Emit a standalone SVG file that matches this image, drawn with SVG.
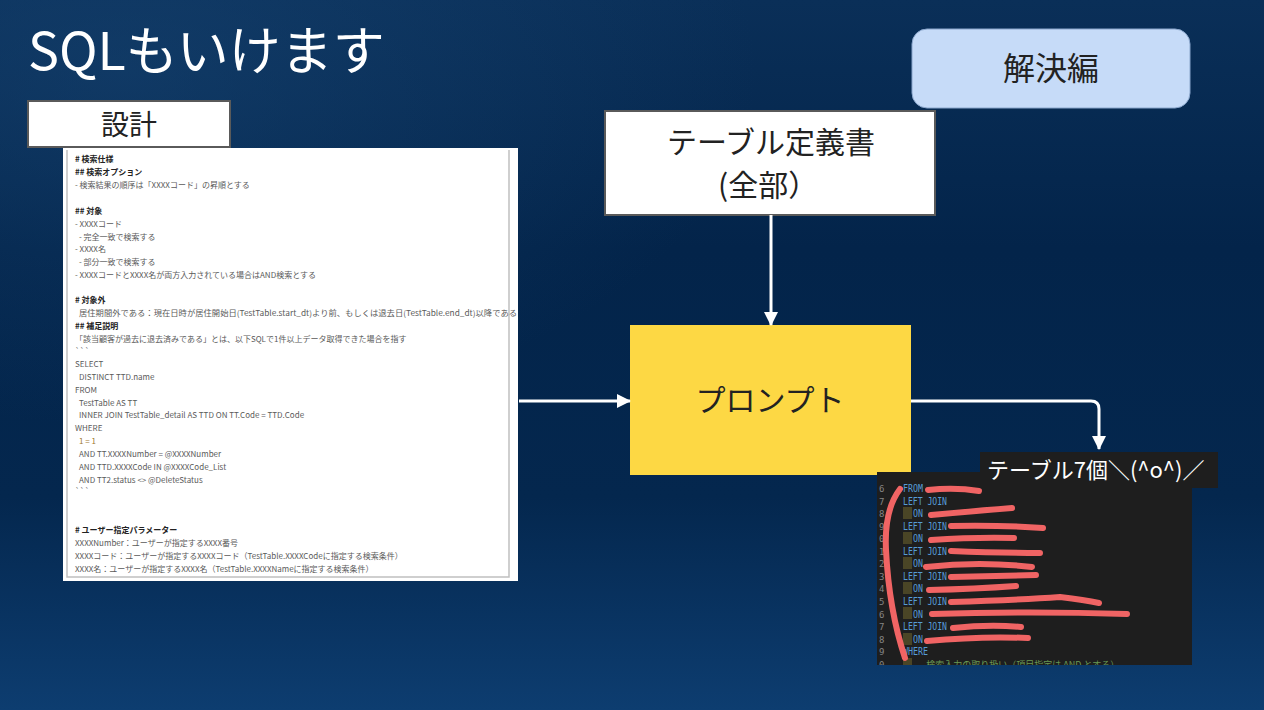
<svg xmlns="http://www.w3.org/2000/svg" width="1264" height="710" viewBox="0 0 1264 710">
<defs>
<linearGradient id="bg" x1="0" y1="0" x2="0" y2="1">
<stop offset="0" stop-color="#0a2f58"/>
<stop offset="0.35" stop-color="#03244a"/>
<stop offset="0.7" stop-color="#04274e"/>
<stop offset="1" stop-color="#0d3d70"/>
</linearGradient>
<radialGradient id="glow" cx="0.1" cy="0.1" r="0.5">
<stop offset="0" stop-color="#1a4a7a" stop-opacity="0.45"/>
<stop offset="1" stop-color="#1a4a7a" stop-opacity="0"/>
</radialGradient>
<marker id="ah" viewBox="0 0 14 14" refX="13" refY="7" markerWidth="14" markerHeight="14" markerUnits="userSpaceOnUse" orient="auto">
<path d="M0,0 L14,7 L0,14 z" fill="#fff"/>
</marker>
<clipPath id="codeclip"><rect x="877" y="472" width="315" height="193"/></clipPath>
<style>
.jp{font-family:"Noto Sans CJK JP","Noto Sans",sans-serif}
.doc{font-family:"Noto Sans CJK JP","Noto Sans",sans-serif;font-size:8px;fill:#5a5a5a}
.doch{font-family:"Noto Sans CJK JP","Noto Sans",sans-serif;font-size:8px;fill:#222;font-weight:bold}
.code{font-family:"DejaVu Sans Mono","Liberation Mono",monospace;font-size:10.5px;fill:#569cd6}
.ln{font-family:"DejaVu Sans Mono","Liberation Mono",monospace;font-size:9px;fill:#858585}
.scr{fill:none;stroke:#f06464;stroke-width:6;stroke-linecap:round;stroke-linejoin:round}
.conn{fill:none;stroke:#fff;stroke-width:3}
</style>
</defs>
<rect width="1264" height="710" fill="url(#bg)"/>
<rect width="1264" height="710" fill="url(#glow)"/>

<text x="28" y="70" class="jp" font-size="52" fill="#fff">SQLもいけます</text>

<g id="design-label">
<rect x="28" y="101" width="202" height="46" fill="#fff" stroke="#5a5a5a" stroke-width="2"/>
<text x="129" y="135" class="jp" font-size="28" fill="#222" text-anchor="middle">設計</text>
</g>

<g id="design-doc">
<rect x="63" y="148" width="455" height="433" fill="#fff"/>
<path d="M67,150 V577 H509 V150" fill="none" stroke="#c0c0c0" stroke-width="1.5"/>
<text x="75" y="162" class="doch"># 検索仕様</text>
<text x="75" y="175" class="doch">## 検索オプション</text>
<text x="75" y="188" class="doc">- 検索結果の順序は「XXXXコード」の昇順とする</text>
<text x="75" y="214" class="doch">## 対象</text>
<text x="75" y="227" class="doc">- XXXXコード</text>
<text x="79" y="240" class="doc">- 完全一致で検索する</text>
<text x="75" y="252" class="doc">- XXXX名</text>
<text x="79" y="265" class="doc">- 部分一致で検索する</text>
<text x="75" y="278" class="doc">- XXXXコードとXXXX名が両方入力されている場合はAND検索とする</text>
<text x="75" y="303" class="doch"># 対象外</text>
<text x="79" y="316" class="doc" textLength="438" lengthAdjust="spacingAndGlyphs">居住期間外である：現在日時が居住開始日(TestTable.start_dt)より前、もしくは退去日(TestTable.end_dt)以降である</text>
<text x="75" y="329" class="doch">## 補足説明</text>
<text x="75" y="342" class="doc">「該当顧客が過去に退去済みである」とは、以下SQLで1件以上データ取得できた場合を指す</text>
<text x="75" y="354" class="doc">```</text>
<text x="75" y="367" class="doc">SELECT</text>
<text x="79" y="380" class="doc">DISTINCT TTD.name</text>
<text x="75" y="393" class="doc">FROM</text>
<text x="79" y="406" class="doc">TestTable AS TT</text>
<text x="79" y="418" class="doc">INNER JOIN TestTable_detail AS TTD ON TT.Code = TTD.Code</text>
<text x="75" y="431" class="doc">WHERE</text>
<text x="79" y="444" class="doc" style="fill:#a07a30">1 = 1</text>
<text x="79" y="457" class="doc">AND TT.XXXXNumber = @XXXXNumber</text>
<text x="79" y="470" class="doc">AND TTD.XXXXCode IN @XXXXCode_List</text>
<text x="79" y="483" class="doc">AND TT2.status &lt;&gt; @DeleteStatus</text>
<text x="75" y="494" class="doc">```</text>
<text x="75" y="533" class="doch"># ユーザー指定パラメーター</text>
<text x="75" y="546" class="doc">XXXXNumber：ユーザーが指定するXXXX番号</text>
<text x="75" y="559" class="doc">XXXXコード：ユーザーが指定するXXXXコード（TestTable.XXXXCodeに指定する検索条件）</text>
<text x="75" y="572" class="doc">XXXX名：ユーザーが指定するXXXX名（TestTable.XXXXNameに指定する検索条件）</text>
</g>

<g id="solution-badge">
<rect x="912" y="29" width="278" height="79" rx="15" fill="#c6dbf8" stroke="#8aa6cc" stroke-width="1"/>
<text x="1051" y="80" class="jp" font-size="32" fill="#222" text-anchor="middle">解決編</text>
</g>

<g id="table-def">
<rect x="605" y="111" width="330" height="104" fill="#fff" stroke="#5a5a5a" stroke-width="2"/>
<text x="771" y="153" class="jp" font-size="30" fill="#222" text-anchor="middle">テーブル定義書</text>
<text x="718" y="196" class="jp" font-size="30" fill="#222">(全部）</text>
</g>

<g id="prompt">
<rect x="630" y="325" width="281" height="150" fill="#fdd844"/>
<text x="770" y="411" class="jp" font-size="30" fill="#222" text-anchor="middle">プロンプト</text>
</g>

<g id="result">
<rect x="877" y="472" width="315" height="193" fill="#1e1e1e"/>
<g clip-path="url(#codeclip)">
<text class="ln" x="879" y="492">6</text>
<text class="ln" x="879" y="505">7</text>
<text class="ln" x="879" y="517">8</text>
<text class="ln" x="879" y="530">9</text>
<text class="ln" x="879" y="542">0</text>
<text class="ln" x="879" y="555">1</text>
<text class="ln" x="879" y="567">2</text>
<text class="ln" x="879" y="580">3</text>
<text class="ln" x="879" y="592">4</text>
<text class="ln" x="879" y="605">5</text>
<text class="ln" x="879" y="618">6</text>
<text class="ln" x="879" y="630">7</text>
<text class="ln" x="879" y="643">8</text>
<text class="ln" x="879" y="655">9</text>
<text class="ln" x="879" y="668">0</text>
<g fill="#4a4526">
<rect x="903" y="507" width="9" height="12"/>
<rect x="903" y="532" width="9" height="12"/>
<rect x="903" y="557" width="9" height="12"/>
<rect x="903" y="582" width="9" height="12"/>
<rect x="903" y="607" width="9" height="12"/>
<rect x="903" y="633" width="9" height="12"/>
<rect x="903" y="658" width="9" height="12"/>
</g>
<text class="code" x="903" y="492" textLength="20" lengthAdjust="spacingAndGlyphs">FROM</text>
<text class="code" x="903" y="505" textLength="44" lengthAdjust="spacingAndGlyphs">LEFT JOIN</text>
<text class="code" x="913" y="517" textLength="10" lengthAdjust="spacingAndGlyphs">ON</text>
<text class="code" x="903" y="530" textLength="44" lengthAdjust="spacingAndGlyphs">LEFT JOIN</text>
<text class="code" x="913" y="542" textLength="10" lengthAdjust="spacingAndGlyphs">ON</text>
<text class="code" x="903" y="555" textLength="44" lengthAdjust="spacingAndGlyphs">LEFT JOIN</text>
<text class="code" x="913" y="567" textLength="10" lengthAdjust="spacingAndGlyphs">ON</text>
<text class="code" x="903" y="580" textLength="44" lengthAdjust="spacingAndGlyphs">LEFT JOIN</text>
<text class="code" x="913" y="592" textLength="10" lengthAdjust="spacingAndGlyphs">ON</text>
<text class="code" x="903" y="605" textLength="44" lengthAdjust="spacingAndGlyphs">LEFT JOIN</text>
<text class="code" x="913" y="618" textLength="10" lengthAdjust="spacingAndGlyphs">ON</text>
<text class="code" x="903" y="630" textLength="44" lengthAdjust="spacingAndGlyphs">LEFT JOIN</text>
<text class="code" x="913" y="643" textLength="10" lengthAdjust="spacingAndGlyphs">ON</text>
<text class="code" x="903" y="655" textLength="25" lengthAdjust="spacingAndGlyphs">WHERE</text>
<text x="918" y="668" style="fill:#6a9955;font-family:'Noto Sans CJK JP',monospace;font-size:9px">-- 検索入力の取り扱い（項目指定は AND とする）</text>
<path class="scr" d="M928,490 Q955,487 979,491"/>
<path class="scr" d="M931,515 Q975,511 1012,508"/>
<path class="scr" d="M951,526 Q1000,525 1043,528"/>
<path class="scr" d="M931,540 Q975,537 1014,538"/>
<path class="scr" d="M951,551 Q1000,553 1040,553"/>
<path class="scr" d="M926,567 Q980,561 1032,567"/>
<path class="scr" d="M951,577 Q995,576 1036,575"/>
<path class="scr" d="M929,590 Q975,589 1016,586"/>
<path class="scr" d="M951,602 Q1020,600 1060,597 Q1085,600 1099,603" stroke-width="7"/>
<path class="scr" d="M932,614 Q1030,611 1127,614"/>
<path class="scr" d="M953,628 Q990,624 1021,627"/>
<path class="scr" d="M927,641 Q980,636 1028,638"/>
<path class="scr" d="M900,489 Q884,510 886,550 Q889,610 905,658" stroke-width="4"/>
</g>
<rect x="980" y="452" width="238" height="36" fill="#1e1e1e"/>
<text x="987" y="478" class="jp" font-size="22" fill="#fff">テーブル7個＼(^o^)／</text>
</g>

<g id="connectors">
<path class="conn" d="M519,401 H630" marker-end="url(#ah)"/>
<path class="conn" d="M771,215 V325" marker-end="url(#ah)"/>
<path class="conn" d="M911,401 H1091 Q1099,401 1099,409 V449" marker-end="url(#ah)"/>
</g>
</svg>
